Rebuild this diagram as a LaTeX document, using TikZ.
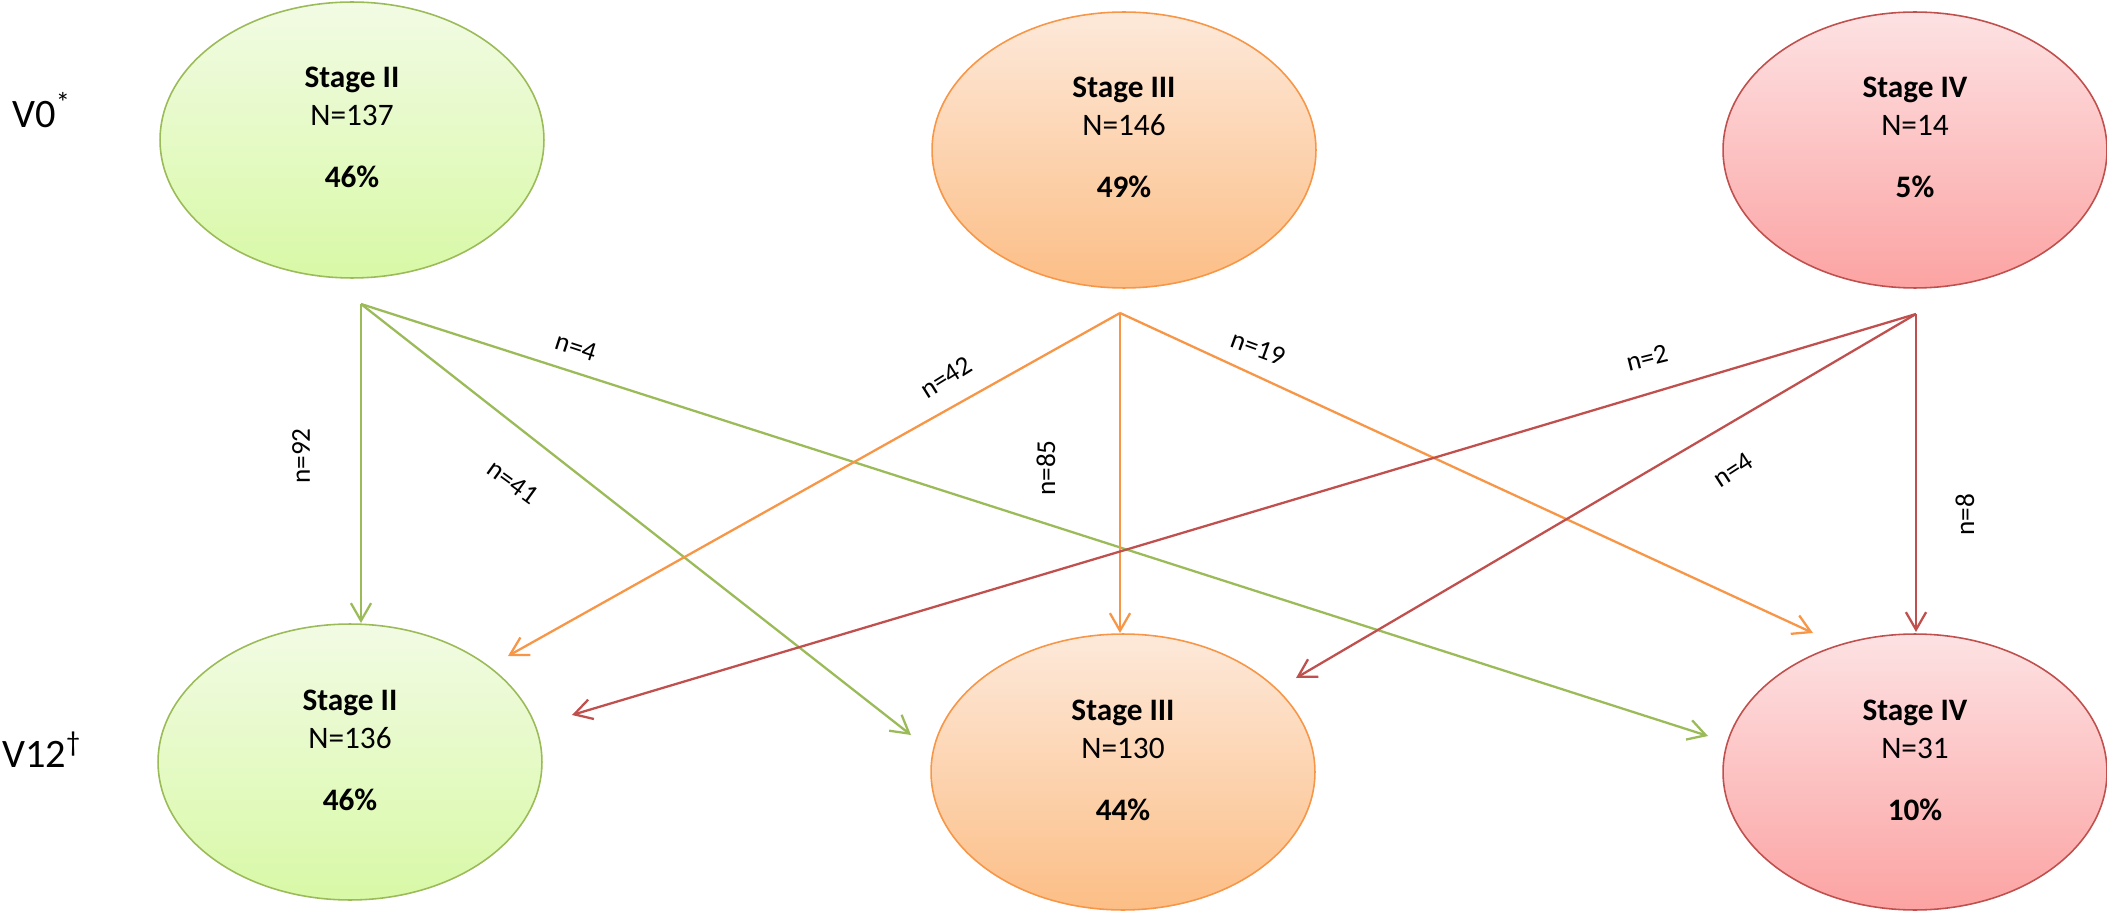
\documentclass[tikz,border=0pt]{standalone}
\usepackage{fontspec}
\setmainfont{Carlito}
\usetikzlibrary{shapes.geometric,arrows.meta,calc}
\definecolor{gline}{HTML}{9BBB59}
\definecolor{gtop}{HTML}{F2FBE4}
\definecolor{gbot}{HTML}{D8F9A6}
\definecolor{oline}{HTML}{F79646}
\definecolor{otop}{HTML}{FDE9DA}
\definecolor{obot}{HTML}{FCBE86}
\definecolor{rline}{HTML}{C0504D}
\definecolor{rtop}{HTML}{FDE2E3}
\definecolor{rbot}{HTML}{FCA3A3}
\begin{document}
\begin{tikzpicture}[x=0.02cm,y=-0.02cm,
  stage/.style={ellipse, line width=0.9pt, minimum width=7.68cm, minimum height=5.52cm, inner sep=0pt, outer sep=0pt},
  gst/.style={stage, draw=gline, top color=gtop, bottom color=gbot},
  ost/.style={stage, draw=oline, top color=otop, bottom color=obot},
  rst/.style={stage, draw=rline, top color=rtop, bottom color=rbot},
  ttl/.style={font=\fontsize{17.8}{20}\selectfont\bfseries, anchor=base, inner sep=0pt},
  cnt/.style={font=\fontsize{17.8}{20}\selectfont, anchor=base, inner sep=0pt},
  visit/.style={font=\fontsize{23}{26}\selectfont, anchor=base west, inner sep=0pt},
  lbl/.style={font=\fontsize{15.5}{18}\selectfont, inner sep=0pt},
  flow/.style={line width=1.3pt, -{Straight Barb[length=10pt,width=11.5pt]}},
]
\useasboundingbox (0,0) rectangle (2107,912);

% ellipses
\node[gst] (t2) at (352,140) {};
\node[ost] (t3) at (1124,150) {};
\node[rst] (t4) at (1915,150) {};
\node[gst] (b2) at (350,762) {};
\node[ost] (b3) at (1123,772) {};
\node[rst] (b4) at (1915,772) {};

% texts in ellipses
\foreach \e/\t/\n/\p in {t2/Stage II/N=137/46\%, t3/Stage III/N=146/49\%, t4/Stage IV/N=14/5\%,
                         b2/Stage II/N=136/46\%, b3/Stage III/N=130/44\%, b4/Stage IV/N=31/10\%}{
  \node[ttl] (\e-a) at ($(\e)+(0,-52)$) {\t};
  \node[cnt] (\e-b) at ($(\e)+(0,-14)$) {\n};
  \node[ttl] (\e-c) at ($(\e)+(0,48)$) {\p};
}

% visit labels
\node[visit] (v0) at (12,128) {V0\textsuperscript{*}};
\node[visit] (v12) at (2,767) {V12\textsuperscript{†}};

% sources and targets
\coordinate (gs) at (361,304);
\coordinate (os) at (1120,313);
\coordinate (rs) at (1916,314);
\coordinate (g92) at (361,623);
\coordinate (g41) at (911,735);
\coordinate (g4) at (1708,736);
\coordinate (o42) at (508,656);
\coordinate (o85) at (1120,633);
\coordinate (o19) at (1813,633);
\coordinate (r2) at (572,715);
\coordinate (r4) at (1296,678);
\coordinate (r8) at (1916,632);

\draw[flow, gline] (gs) -- (g92);
\draw[flow, gline] (gs) -- (g41);
\draw[flow, gline] (gs) -- (g4);
\draw[flow, oline] (os) -- (o42);
\draw[flow, oline] (os) -- (o85);
\draw[flow, oline] (os) -- (o19);
\draw[flow, rline] (rs) -- (r2);
\draw[flow, rline] (rs) -- (r4);
\draw[flow, rline] (rs) -- (r8);

% flow labels
\node[lbl, rotate=90] (l92) at (301,456) {n=92};
\node[lbl, rotate=-36] (l41) at (513,482) {n=41};
\node[lbl, rotate=-18] (l4g) at (576,347) {n=4};
\node[lbl, rotate=32] (l42) at (946,377) {n=42};
\node[lbl, rotate=90] (l85) at (1046,468) {n=85};
\node[lbl, rotate=-20] (l19) at (1258,348) {n=19};
\node[lbl, rotate=14] (l2) at (1647,358) {n=2};
\node[lbl, rotate=33] (l4r) at (1733,470) {n=4};
\node[lbl, rotate=90] (l8) at (1965,515) {n=8};
\end{tikzpicture}
\end{document}
